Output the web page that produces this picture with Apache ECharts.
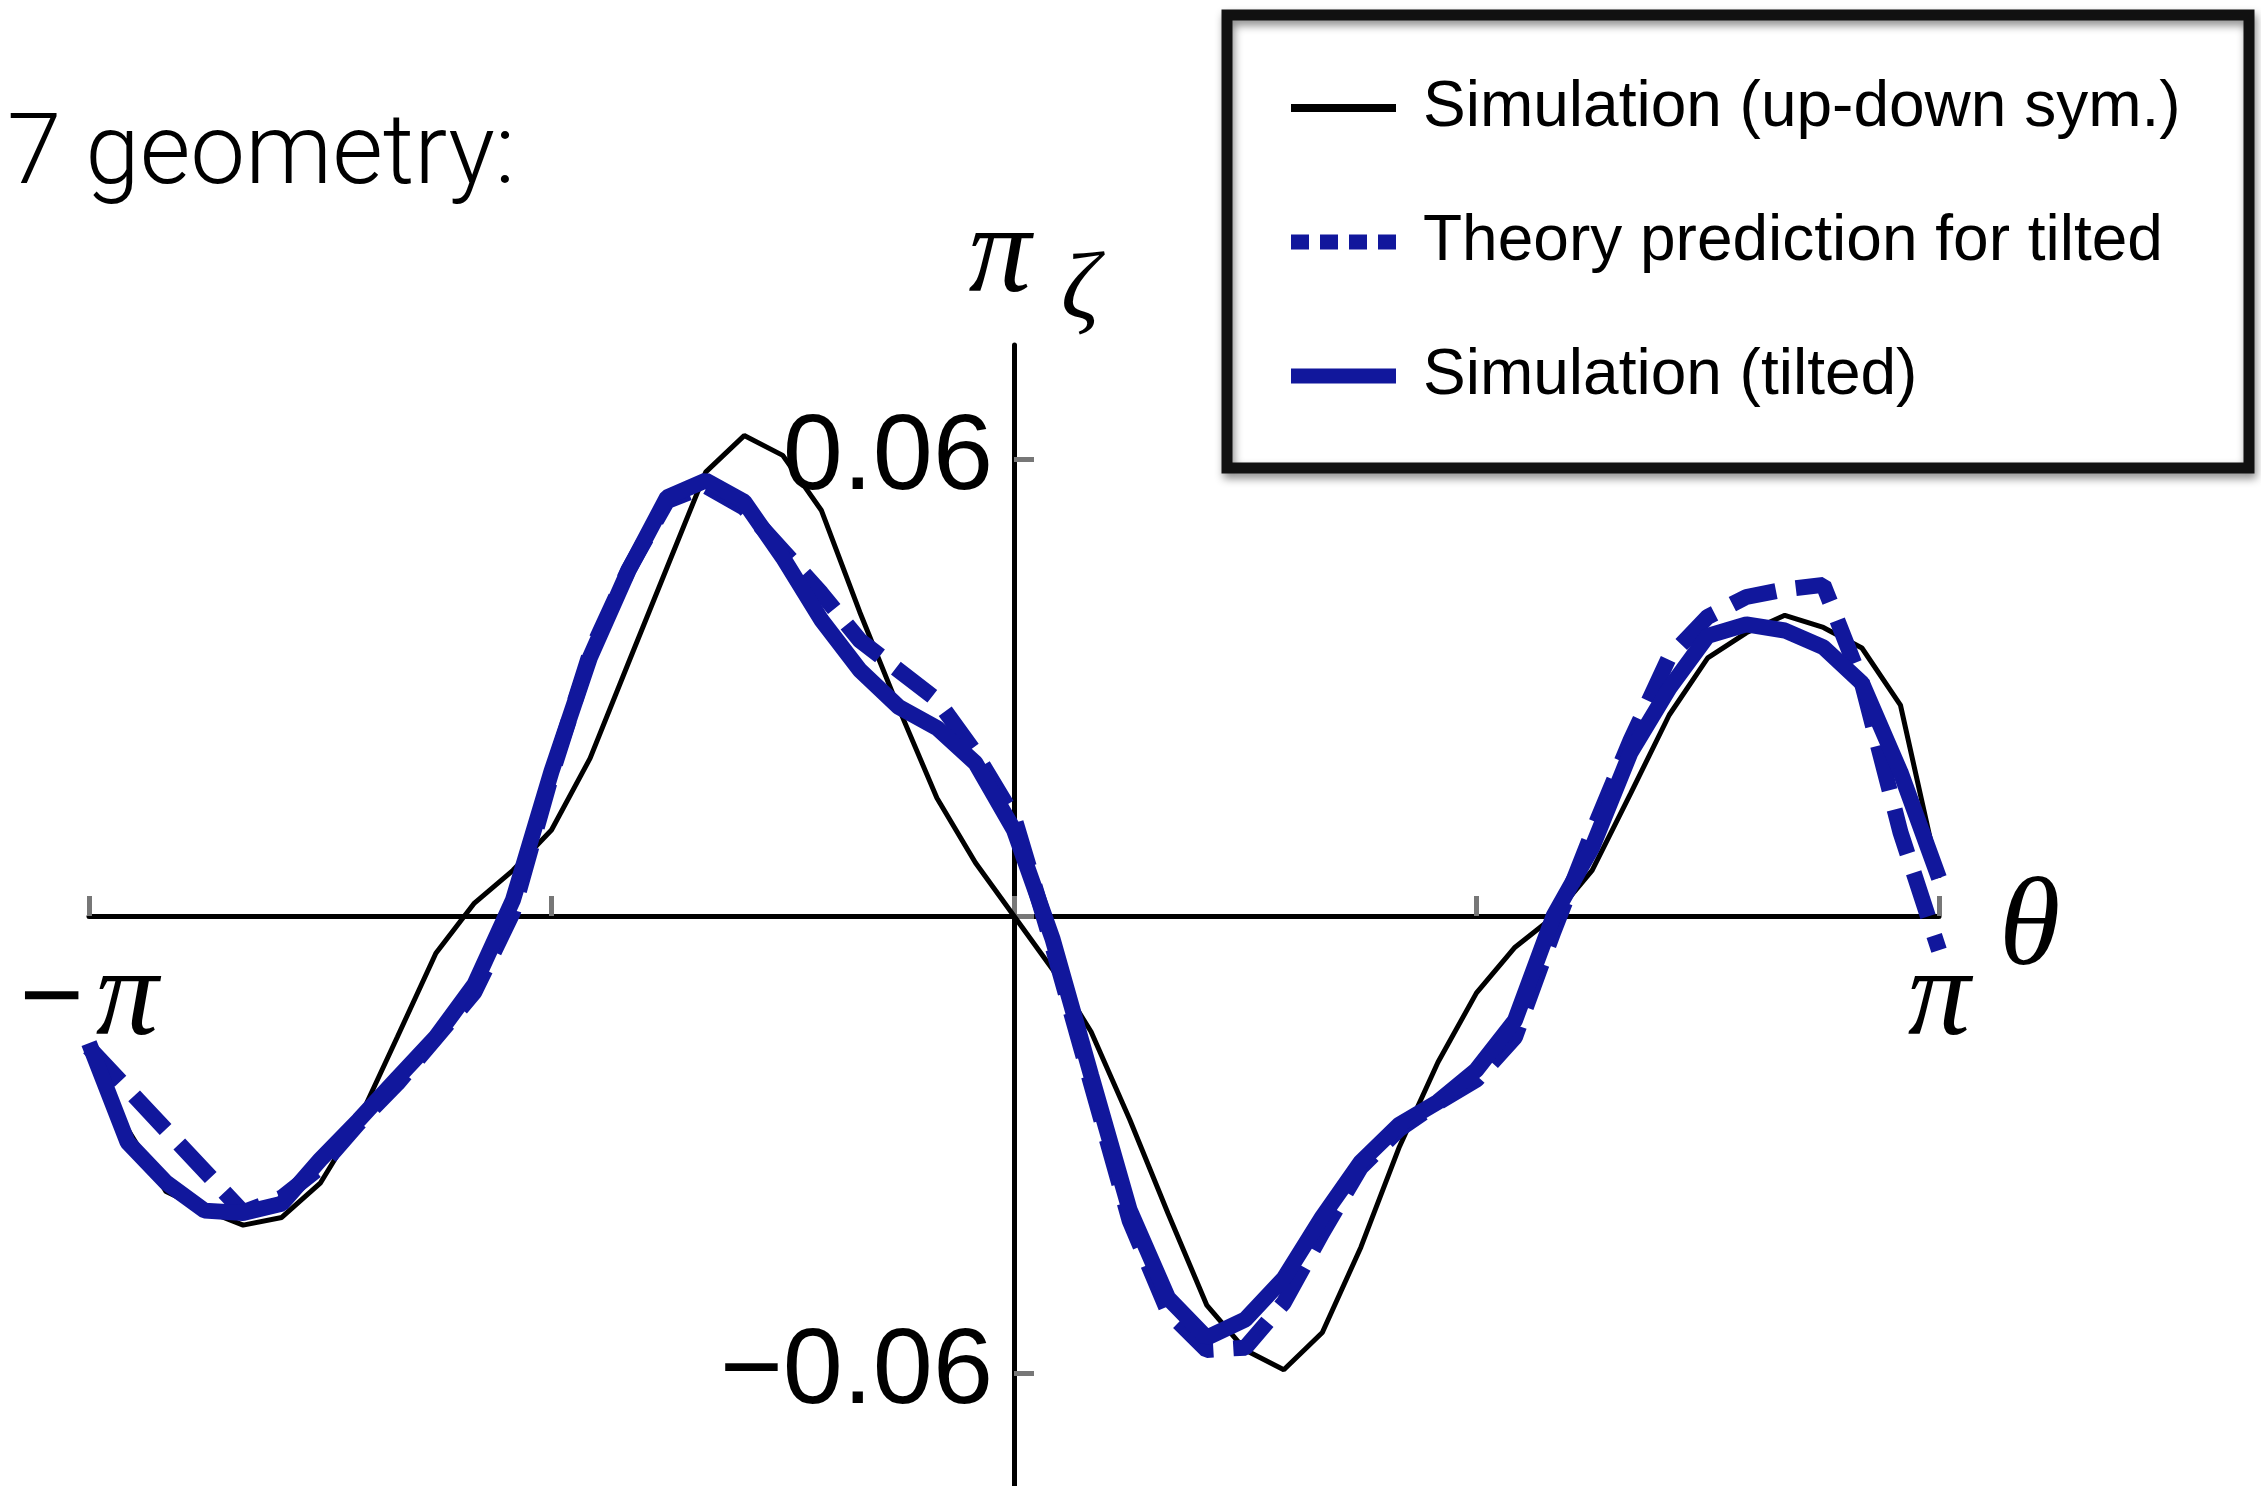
<!DOCTYPE html>
<html>
<head>
<meta charset="utf-8">
<style>
  html, body { margin: 0; padding: 0; background: #ffffff; }
  #chart { width: 2261px; height: 1486px; }
</style>
<script src="https://cdn.jsdelivr.net/npm/echarts@6/dist/echarts.min.js"></script>
</head>
<body>
<div id="chart"></div>
<script>
// Sample positions along theta, in steps of pi/24 (theta = n * pi / 24)
const thetaSteps = [-24, -23, -22, -21, -20, -19, -18, -17, -16, -15, -14, -13, -12,
  -11, -10, -9, -8, -7, -6, -5, -4, -3, -2, -1, 0, 1, 2, 3, 4, 5, 6, 7, 8, 9, 10, 11,
  12, 13, 14, 15, 16, 17, 18, 19, 20, 21, 22, 23, 24];

// pi_zeta, simulation with up-down symmetric geometry
const simUpDown = [-0.0170, -0.0280, -0.0362, -0.0386, -0.0406, -0.0396, -0.0351, -0.0268,
  -0.0159, -0.0049, 0.0017, 0.0060, 0.0113, 0.0207, 0.0333, 0.0458, 0.0583, 0.0631, 0.0605,
  0.0533, 0.0399, 0.0274, 0.0155, 0.0070, 0.0000, -0.0070, -0.0152, -0.0267, -0.0391,
  -0.0511, -0.0570, -0.0596, -0.0547, -0.0435, -0.0303, -0.0192, -0.0101, -0.0041, -0.0001,
  0.0060, 0.0161, 0.0264, 0.0339, 0.0372, 0.0395, 0.0379, 0.0352, 0.0277, 0.0050];

// pi_zeta, theory prediction for the tilted geometry
const theoryTilted = [-0.0173, -0.0227, -0.0281, -0.0335, -0.0389, -0.0370, -0.0330, -0.0272,
  -0.0220, -0.0160, -0.0100, 0.0005, 0.0185, 0.0345, 0.0455, 0.0545, 0.0565, 0.0536, 0.0480,
  0.0424, 0.0362, 0.0323, 0.0284, 0.0214, 0.0130, -0.0040, -0.0220, -0.0400, -0.0520,
  -0.0570, -0.0567, -0.0508, -0.0416, -0.0330, -0.0280, -0.0245, -0.0215, -0.0159, -0.0020,
  0.0109, 0.0231, 0.0340, 0.0393, 0.0419, 0.0429, 0.0435, 0.0306, 0.0110, -0.0045];

// pi_zeta, simulation with tilted geometry
const simTilted = [-0.0167, -0.0297, -0.0350, -0.0387, -0.0390, -0.0378, -0.0320, -0.0268,
  -0.0213, -0.0159, -0.0090, 0.0021, 0.0190, 0.0340, 0.0454, 0.0550, 0.0572, 0.0544, 0.0471,
  0.0389, 0.0323, 0.0275, 0.0247, 0.0201, 0.0113, -0.0030, -0.0209, -0.0386, -0.0502,
  -0.0554, -0.0530, -0.0476, -0.0395, -0.0323, -0.0274, -0.0244, -0.0202, -0.0137, 0.0000,
  0.0090, 0.0215, 0.0299, 0.0368, 0.0383, 0.0375, 0.0353, 0.0306, 0.0189, 0.0050];

const seriesNames = ['Simulation (up-down sym.)', 'Theory prediction for tilted', 'Simulation (tilted)'];

// Axis ticks (theta ticks in multiples of pi/2) and labelled values
const xTickHalfPis = [-2, -1, 0, 1, 2];
const xLabelHalfPis = [-2, 2];
const yTickValues = [-0.06, 0, 0.06];
const yLabelValues = [-0.06, 0.06];
const yRange = [-0.075, 0.075];

const titleText = '7 geometry:';

const BLUE = '#11179c';
const theta = thetaSteps.map(n => n * Math.PI / 24);
const pairs = vals => theta.map((t, i) => [t, vals[i]]);

// Plot area; the axes cross at the origin, so each axis is shifted inwards
const GRID = { left: 89, top: 345, width: 1850, height: 1142 };
const xAxisShift = -GRID.height * (yRange[1] / (yRange[1] - yRange[0]));
const yAxisShift = -GRID.width / 2;

const chart = echarts.init(document.getElementById('chart'), null, { renderer: 'canvas' });

const mathFont = { fontFamily: 'Liberation Serif', fontStyle: 'italic', color: '#000' };

chart.setOption({
  animation: false,
  backgroundColor: '#ffffff',
  grid: Object.assign({ containLabel: false, outerBoundsMode: 'none' }, GRID),
  xAxis: {
    type: 'value',
    min: -Math.PI,
    max: Math.PI,
    position: 'bottom',
    offset: xAxisShift,
    name: 'θ',
    nameLocation: 'end',
    nameGap: 60,
    nameTextStyle: Object.assign({ fontSize: 125, lineHeight: 30, verticalAlign: 'top', align: 'left' }, mathFont),
    axisLine: { onZero: false, lineStyle: { color: '#000', width: 5 } },
    axisTick: {
      show: true, inside: true, length: 20,
      customValues: xTickHalfPis.map(k => k * Math.PI / 2),
      lineStyle: { color: '#777777', width: 5 }
    },
    axisLabel: {
      customValues: xLabelHalfPis.map(k => k * Math.PI / 2),
      formatter: v => (v < 0 ? '{m|−}' : '') + '{p|π}',
      margin: 23,
      rich: {
        m: { fontFamily: 'Liberation Sans', fontSize: 110, lineHeight: 125, color: '#000', padding: [0, 12, 0, 0] },
        p: Object.assign({ fontSize: 125, lineHeight: 125 }, mathFont)
      }
    },
    splitLine: { show: false }
  },
  yAxis: {
    type: 'value',
    min: yRange[0],
    max: yRange[1],
    position: 'left',
    offset: yAxisShift,
    name: '{p|π}{z|ζ}',
    nameLocation: 'end',
    nameGap: 14,
    nameTextStyle: {
      padding: [0, 0, 0, 40],
      rich: {
        p: Object.assign({ fontSize: 125, lineHeight: 125, padding: [0, 0, 20, 0] }, mathFont),
        z: Object.assign({ fontSize: 95, lineHeight: 95, padding: [50, 0, 0, 30] }, mathFont)
      }
    },
    axisLine: { onZero: false, lineStyle: { color: '#000', width: 5 } },
    axisTick: {
      show: true, inside: true, length: 20,
      customValues: yTickValues,
      lineStyle: { color: '#777777', width: 5 }
    },
    axisLabel: {
      customValues: yLabelValues,
      formatter: v => v.toFixed(2).replace('-', '−'),
      fontFamily: 'Liberation Sans',
      fontSize: 108,
      color: '#000',
      margin: 21
    },
    splitLine: { show: false }
  },
  legend: {
    orient: 'vertical',
    left: 1291,
    top: 76,
    padding: 0,
    itemGap: 70,
    itemWidth: 105,
    itemHeight: 15,
    selectedMode: false,
    itemStyle: { borderWidth: 0 },
    textStyle: { fontFamily: 'Liberation Sans', fontSize: 64, lineHeight: 64, color: '#000', padding: [0, 0, 0, 22] },
    data: [
      { name: seriesNames[0], icon: 'path://M0,0H105V8H0Z' },
      { name: seriesNames[1], icon: 'path://M0,0H18V15H0Z M29,0H47V15H29Z M58,0H76V15H58Z M87,0H105V15H87Z' },
      { name: seriesNames[2], icon: 'path://M0,0H105V15H0Z' }
    ]
  },
  graphic: [
    {
      type: 'rect',
      z: 1,
      shape: { x: 1227, y: 15, width: 1022, height: 453 },
      style: {
        fill: 'transparent',
        stroke: '#111111',
        lineWidth: 11,
        shadowBlur: 8,
        shadowColor: 'rgba(0,0,0,0.45)',
        shadowOffsetX: 2,
        shadowOffsetY: 5
      },
      silent: true
    },
    {
      type: 'text',
      x: 7,
      y: 108,
      style: {
        text: titleText,
        fontFamily: 'Roboto',
        fontWeight: 300,
        fontSize: 98,
        lineHeight: 100,
        fill: '#000',
        verticalAlign: 'top'
      },
      silent: true
    }
  ],
  series: [
    {
      name: seriesNames[0], type: 'line', data: pairs(simUpDown),
      symbol: 'none', showSymbol: false, silent: true,
      itemStyle: { color: '#000' },
      lineStyle: { color: '#000', width: 5 }
    },
    {
      name: seriesNames[1], type: 'line', data: pairs(theoryTilted),
      symbol: 'none', showSymbol: false, silent: true,
      itemStyle: { color: BLUE },
      lineStyle: { color: BLUE, width: 16, type: [46, 20] }
    },
    {
      name: seriesNames[2], type: 'line', data: pairs(simTilted),
      symbol: 'none', showSymbol: false, silent: true,
      itemStyle: { color: BLUE },
      lineStyle: { color: BLUE, width: 16 }
    }
  ]
});
</script>
</body>
</html>
